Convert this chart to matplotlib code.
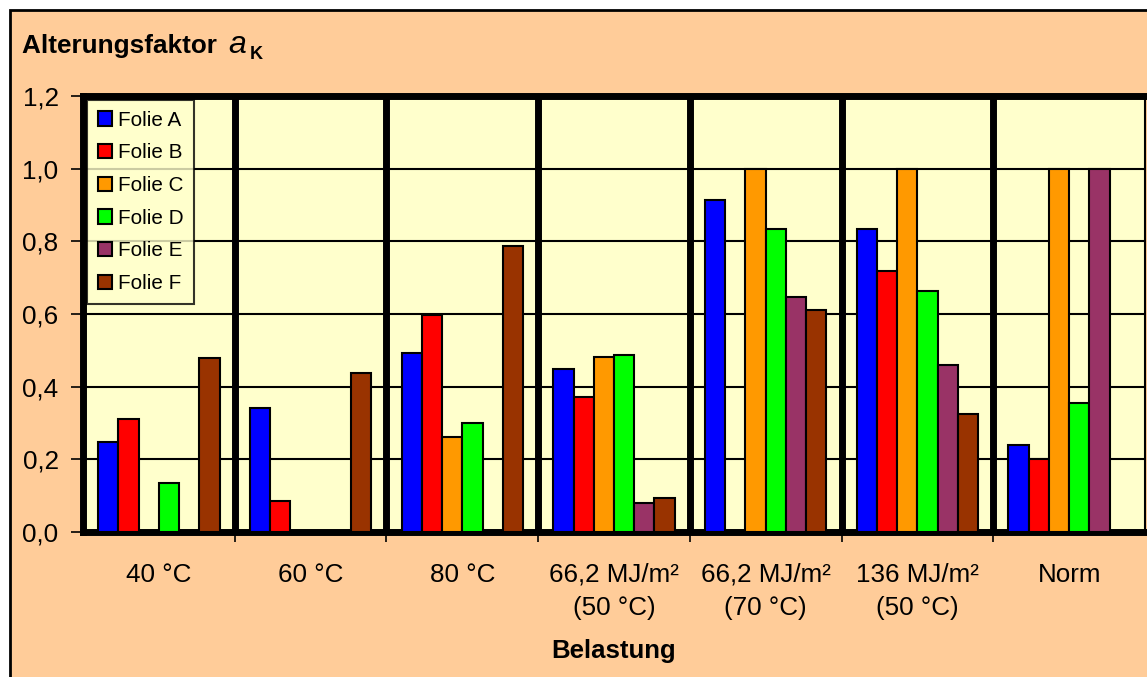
import numpy as np
import matplotlib
matplotlib.use("Agg")
import matplotlib.pyplot as plt
from matplotlib.patches import Rectangle
from matplotlib.ticker import FuncFormatter

plt.rcParams['font.family'] = ['Liberation Sans', 'DejaVu Sans']

# categories (Belastung)
kategorien = ['40 °C', '60 °C', '80 °C', '66,2 MJ/m²\n(50 °C)',
              '66,2 MJ/m²\n(70 °C)', '136 MJ/m²\n(50 °C)', 'Norm']

folien = ['Folie A', 'Folie B', 'Folie C', 'Folie D', 'Folie E', 'Folie F']
farben = ['#0000FF', '#FF0000', '#FF9900', '#00FF00', '#993366', '#993300']

nan = np.nan
folie_a = [0.247, 0.340, 0.493, 0.450, 0.913, 0.835, 0.239]
folie_b = [0.311, 0.086, 0.597, 0.372, nan, 0.718, 0.201]
folie_c = [nan, nan, 0.262, 0.482, 1.0, 1.0, 1.0]
folie_d = [0.136, nan, 0.301, 0.487, 0.835, 0.664, 0.355]
folie_e = [nan, nan, nan, 0.079, 0.648, 0.460, 1.0]
folie_f = [0.478, 0.438, 0.786, 0.093, 0.610, 0.324, nan]
werte = [folie_a, folie_b, folie_c, folie_d, folie_e, folie_f]

W, H = 1147, 677
fig = plt.figure(figsize=(W / 100, H / 100), dpi=100)
fig.patch.set_facecolor('white')

# outer frame of the chart
fig.patches.append(Rectangle((10 / W, -0.1), 1.2, 1 - 10 / H + 0.1,
                             transform=fig.transFigure, facecolor='#FFCC99',
                             edgecolor='black', linewidth=2, zorder=-1))

ax = fig.add_axes([83 / W, 1 - 532 / H, (1145 - 83) / W, (532 - 96) / H])
ax.set_facecolor('#FFFFCC')

x = np.arange(len(kategorien))
w = 1 / 7.5
for j, (name, vals) in enumerate(zip(folien, werte)):
    ax.bar(x + (j - 2.5) * w, vals, width=w, color=farben[j],
           edgecolor='black', linewidth=1.5, label=name, zorder=3)

ax.set_xlim(-0.5, len(kategorien) - 0.5)
ax.set_ylim(0, 1.2)
ax.set_yticks(np.arange(0, 1.21, 0.2))
ax.yaxis.set_major_formatter(FuncFormatter(lambda v, p: f"{v:.1f}".replace('.', ',')))
ax.grid(axis='y', color='black', linewidth=1.5, zorder=1)
for b in x[:-1] + 0.5:
    ax.axvline(b, color='black', linewidth=5, zorder=2)

ax.set_xticks(x[:-1] + 0.5, minor=False)
ax.set_xticklabels([])
ax.set_xticks(x, minor=True)
ax.set_xticklabels(kategorien, minor=True, fontsize=18.7, linespacing=1.48)
ax.tick_params(axis='x', which='minor', length=0, pad=22)
ax.tick_params(axis='x', which='major', length=7, width=1.2, direction='out')
ax.tick_params(axis='y', length=9, width=1.2, direction='out', labelsize=18.7, pad=8.6)

for s in ['left', 'top', 'bottom']:
    ax.spines[s].set_linewidth(5)
ax.spines['right'].set_linewidth(1.5)

leg = ax.legend(loc='upper left', bbox_to_anchor=(4 / 1062, 1 - 4 / 436), fontsize=14.9,
                frameon=True, fancybox=False, edgecolor='black',
                handlelength=0.68, handleheight=0.68, handletextpad=0.29,
                labelspacing=0.66, borderpad=0.52, borderaxespad=0)
leg.get_frame().set_facecolor('#FFFFCC')
leg.get_frame().set_linewidth(1.5)
leg.set_zorder(5)

# title
fig.text(22 / W, 1 - 53 / H, 'Alterungsfaktor ', fontsize=18.8, fontweight='bold',
         va='baseline', ha='left')
fig.text(228 / W, 1 - 53 / H, 'a', fontsize=23, style='italic',
         va='baseline', ha='left')
fig.text(250 / W, 1 - 59 / H, 'K', fontsize=13, fontweight='bold',
         va='baseline', ha='left')

fig.text(614 / W, 1 - 658 / H, 'Belastung', fontsize=18.5, fontweight='bold',
         va='baseline', ha='center')

fig.savefig('out.png', dpi=100, facecolor=fig.get_facecolor())
